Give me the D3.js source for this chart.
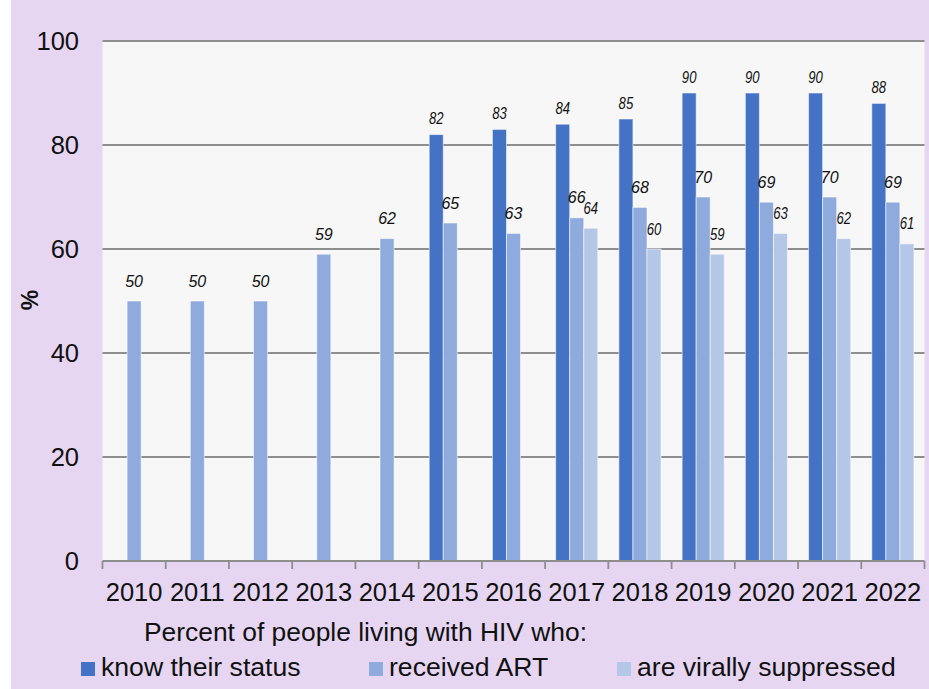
<!DOCTYPE html>
<html><head><meta charset="utf-8">
<script src="https://cdn.jsdelivr.net/npm/d3@7"></script>
<style>html,body{margin:0;padding:0;background:#fff;}svg{display:block;}</style>
</head><body>
<script>
const years = ["2010","2011","2012","2013","2014","2015","2016","2017","2018","2019","2020","2021","2022"];
const knowStatus = [null,null,null,null,null,82,83,84,85,90,90,90,88];
const receivedART = [50,50,50,59,62,65,63,66,68,70,69,70,69];
const viralSupp = [null,null,null,null,null,null,null,64,60,59,63,62,61];
const seriesNames = ["know their status","received ART","are virally suppressed"];
const seriesColors = ["#4472C4","#8FAADC","#B4C7E7"];
const yTicks = [0,20,40,60,80,100];
const legendTitle = "Percent of people living with HIV who:";

(function () {
const W = 929, H = 689;
const svg = d3.select("body").append("svg").attr("width", W).attr("height", H);
svg.append("rect").attr("x", 11).attr("y", 0).attr("width", W - 11).attr("height", H).attr("fill", "#E6D6F2");

const pL = 102.5, pR = 924.5, pT = 41, pB = 561;
svg.append("rect").attr("x", pL).attr("y", pT).attr("width", pR - pL).attr("height", pB - pT).attr("fill", "#F7F7F7");

const x = d3.scaleBand().domain(years).range([pL, pR]).paddingInner(0).paddingOuter(0);
const y = d3.scaleLinear().domain([0, 100]).range([pB, pT]);
const bw = x.bandwidth();
const barW = bw / (3 + 1.5);
const sub = d3.scaleBand().domain([0,1,2]).range([0, barW * 3]);
const offset = (bw - barW * 3) / 2;

// gridlines
svg.append("g").selectAll("line").data(yTicks.filter(d => d > 0)).join("line")
  .attr("x1", pL).attr("x2", pR)
  .attr("y1", d => y(d)).attr("y2", d => y(d))
  .attr("stroke", "#8e8e8e").attr("stroke-width", 1.8);

// y labels
svg.append("g").selectAll("text").data(yTicks).join("text")
  .attr("x", 79).attr("y", d => y(d) + 9)
  .attr("text-anchor", "end")
  .attr("font-family", "Liberation Sans, Arial, sans-serif").attr("font-size", 25.5)
  .attr("fill", "#111").text(d => d);

// y title
svg.append("text").attr("transform", "translate(38,300) rotate(-90)")
  .attr("text-anchor", "middle").attr("font-family", "Liberation Sans, Arial, sans-serif")
  .attr("font-weight", "bold").attr("font-size", 23).attr("fill", "#111").text("%");

const allSeries = [knowStatus, receivedART, viralSupp];
const bars = [];
allSeries.forEach((arr, si) => arr.forEach((v, i) => {
  if (v !== null) bars.push({ si, year: years[i], v });
}));

svg.append("g").selectAll("rect").data(bars).join("rect")
  .attr("x", d => x(d.year) + offset + sub(d.si))
  .attr("y", d => y(d.v))
  .attr("width", barW)
  .attr("height", d => y(0) - y(d.v))
  .attr("fill", d => seriesColors[d.si])
  .attr("stroke", "rgba(255,255,255,0.55)").attr("stroke-width", 1);

// labels
svg.append("g").selectAll("text").data(bars).join("text")
  .attr("font-family", "Liberation Sans, Arial, sans-serif")
  .attr("font-style", "italic").attr("font-size", 16).attr("fill", "#111")
  .attr("text-anchor", "middle")
  .attr("transform", d => {
    const cx = x(d.year) + offset + sub(d.si) + barW / 2;
    const cy = y(d.v) - (d.si === 0 ? 10.5 : 14.5);
    const sx = d.si === 1 ? 1 : 0.82;
    return `translate(${cx},${cy}) scale(${sx},1)`;
  })
  .text(d => d.v);

// x axis baseline and ticks
svg.append("line").attr("x1", pL).attr("x2", pR).attr("y1", pB).attr("y2", pB)
  .attr("stroke", "#8e8e8e").attr("stroke-width", 1.8);
const tickXs = years.map(d => x(d)).concat([pR]);
svg.append("g").selectAll("line").data(tickXs).join("line")
  .attr("x1", d => d).attr("x2", d => d).attr("y1", pB).attr("y2", pB + 8)
  .attr("stroke", "#8e8e8e").attr("stroke-width", 1.8);

svg.append("g").selectAll("text").data(years).join("text")
  .attr("x", d => x(d) + bw / 2).attr("y", 601)
  .attr("text-anchor", "middle")
  .attr("font-family", "Liberation Sans, Arial, sans-serif").attr("font-size", 25.5)
  .attr("fill", "#111").text(d => d);

// legend
svg.append("text").attr("x", 144).attr("y", 641)
  .attr("font-family", "Liberation Sans, Arial, sans-serif").attr("font-size", 26.4)
  .attr("fill", "#111").text(legendTitle);
const legX = [81, 369, 617];
const lg = svg.append("g").selectAll("g").data(seriesNames).join("g")
  .attr("transform", (d, i) => `translate(${legX[i]},662)`);
lg.append("rect").attr("width", 14).attr("height", 14).attr("fill", (d, i) => seriesColors[i]);
lg.append("text").attr("x", 20).attr("y", 14)
  .attr("font-family", "Liberation Sans, Arial, sans-serif").attr("font-size", 26.6)
  .attr("fill", "#111").text(d => d);
})();
</script>
</body></html>
